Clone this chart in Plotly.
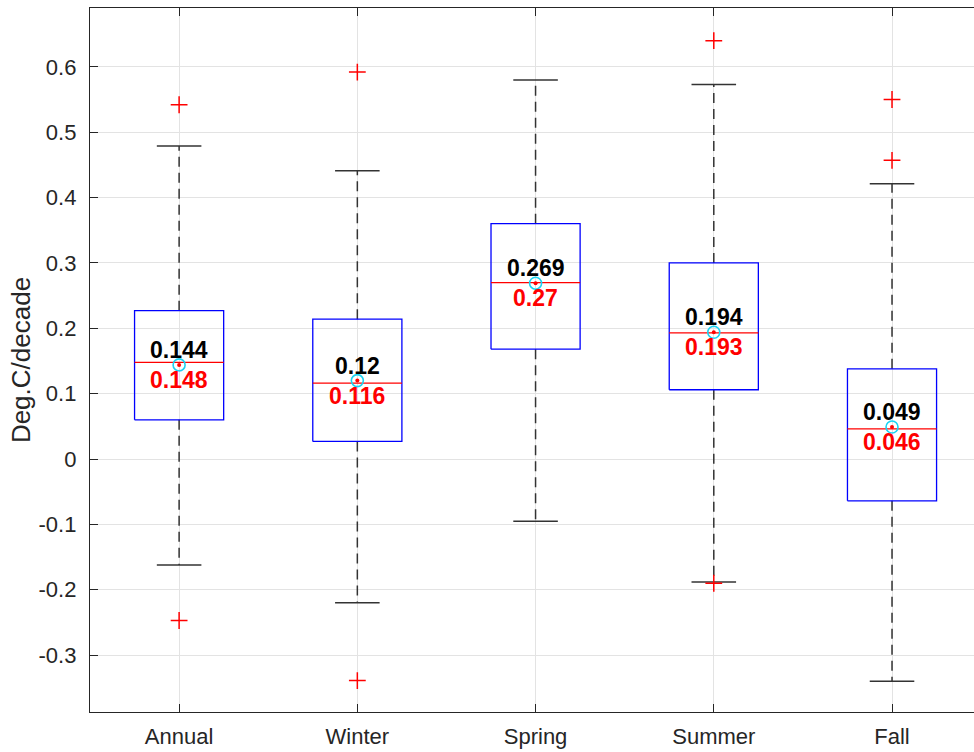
import plotly.graph_objects as go

categories = ["Annual", "Winter", "Spring", "Summer", "Fall"]
q1 = [0.060, 0.027, 0.168, 0.106, -0.064]
q3 = [0.227, 0.214, 0.360, 0.300, 0.138]
medians = [0.148, 0.116, 0.270, 0.193, 0.046]
means = [0.144, 0.120, 0.269, 0.194, 0.049]
lower_whisker = [-0.162, -0.220, -0.095, -0.188, -0.340]
upper_whisker = [0.479, 0.441, 0.580, 0.573, 0.421]
outliers = [[0.542, -0.247], [0.592, -0.339], [], [0.640, -0.190], [0.550, 0.457]]
mean_labels = ["0.144", "0.12", "0.269", "0.194", "0.049"]
median_labels = ["0.148", "0.116", "0.27", "0.193", "0.046"]
y_ticks = [-0.3, -0.2, -0.1, 0, 0.1, 0.2, 0.3, 0.4, 0.5, 0.6]

pos = list(range(1, len(categories) + 1))
BOX_HALF = 0.25
CAP_HALF = 0.125
FONT = "Liberation Sans, Arial, Helvetica"

fig = go.Figure()

# whiskers (dashed)
wx, wy = [], []
for p, a, b, lo, hi in zip(pos, q1, q3, lower_whisker, upper_whisker):
    wx += [p, p, None, p, p, None]
    wy += [b, hi, None, a, lo, None]
fig.add_trace(go.Scatter(x=wx, y=wy, mode="lines",
                         line=dict(color="#333333", width=1.5, dash="10px,6px"),
                         hoverinfo="skip", showlegend=False))

# caps
cx, cy = [], []
for p, lo, hi in zip(pos, lower_whisker, upper_whisker):
    cx += [p - CAP_HALF, p + CAP_HALF, None, p - CAP_HALF, p + CAP_HALF, None]
    cy += [hi, hi, None, lo, lo, None]
fig.add_trace(go.Scatter(x=cx, y=cy, mode="lines",
                         line=dict(color="#333333", width=1.5),
                         hoverinfo="skip", showlegend=False))

# boxes
bx, by = [], []
for p, a, b in zip(pos, q1, q3):
    bx += [p - BOX_HALF, p + BOX_HALF, p + BOX_HALF, p - BOX_HALF, p - BOX_HALF, None]
    by += [a, a, b, b, a, None]
fig.add_trace(go.Scatter(x=bx, y=by, mode="lines",
                         line=dict(color="#0000FF", width=1.3),
                         hoverinfo="skip", showlegend=False))

# medians
mx, my = [], []
for p, m in zip(pos, medians):
    mx += [p - BOX_HALF, p + BOX_HALF, None]
    my += [m, m, None]
fig.add_trace(go.Scatter(x=mx, y=my, mode="lines",
                         line=dict(color="#FF0000", width=1.3),
                         hoverinfo="skip", showlegend=False))

# outliers
ox, oy = [], []
for p, outs in zip(pos, outliers):
    for v in outs:
        ox.append(p)
        oy.append(v)
fig.add_trace(go.Scatter(x=ox, y=oy, mode="markers",
                         marker=dict(symbol="cross-thin", size=12,
                                     line=dict(color="#FF0000", width=1.5)),
                         hoverinfo="skip", showlegend=False))

# mean markers
fig.add_trace(go.Scatter(x=pos, y=means, mode="markers",
                         marker=dict(symbol="circle-open", size=12,
                                     line=dict(color="#1A70B8", width=1.6)),
                         hoverinfo="skip", showlegend=False))
fig.add_trace(go.Scatter(x=pos, y=means, mode="markers",
                         marker=dict(symbol="circle", size=4, color="#FF0000"),
                         hoverinfo="skip", showlegend=False))

# labels
for p, m, ml, dl in zip(pos, means, mean_labels, median_labels):
    fig.add_annotation(x=p, y=m, text=f"<b>{ml}</b>", showarrow=False,
                       xanchor="center", yanchor="bottom", yshift=0,
                       font=dict(family=FONT, size=23, color="#000000"))
    fig.add_annotation(x=p, y=m, text=f"<b>{dl}</b>", showarrow=False,
                       xanchor="center", yanchor="top", yshift=0,
                       font=dict(family=FONT, size=23, color="#FF0000"))

fig.update_layout(
    width=974, height=752,
    margin=dict(l=90, r=0, t=8, b=40),
    paper_bgcolor="white", plot_bgcolor="white",
    font=dict(family=FONT, size=22, color="#262626"),
    showlegend=False,
)
fig.update_xaxes(
    range=[0.5, 5.46], tickvals=pos, ticktext=categories,
    showgrid=True, gridcolor="#e3e3e3", gridwidth=1,
    showline=True, linecolor="#262626", linewidth=1.3, mirror="ticks",
    ticks="inside", ticklen=8, tickcolor="#262626", ticklabelstandoff=4,
    zeroline=False, tickfont=dict(family=FONT, size=22, color="#262626"),
)
fig.update_yaxes(
    range=[-0.387, 0.690], tickvals=y_ticks,
    ticktext=[("%g" % v) for v in y_ticks],
    showgrid=True, gridcolor="#e3e3e3", gridwidth=1,
    showline=True, linecolor="#262626", linewidth=1.3,
    ticks="inside", ticklen=8, tickcolor="#262626", ticklabelstandoff=8,
    zeroline=False, tickfont=dict(family=FONT, size=22, color="#262626"),
    title=dict(text="Deg.C/decade", font=dict(family=FONT, size=26, color="#262626"), standoff=0),
)

fig.write_html("out.html",
               config={"displayModeBar": False},
               post_script="document.body.style.margin='0';"
                           "document.documentElement.style.overflow='hidden';"
                           "document.body.style.overflow='hidden';")
